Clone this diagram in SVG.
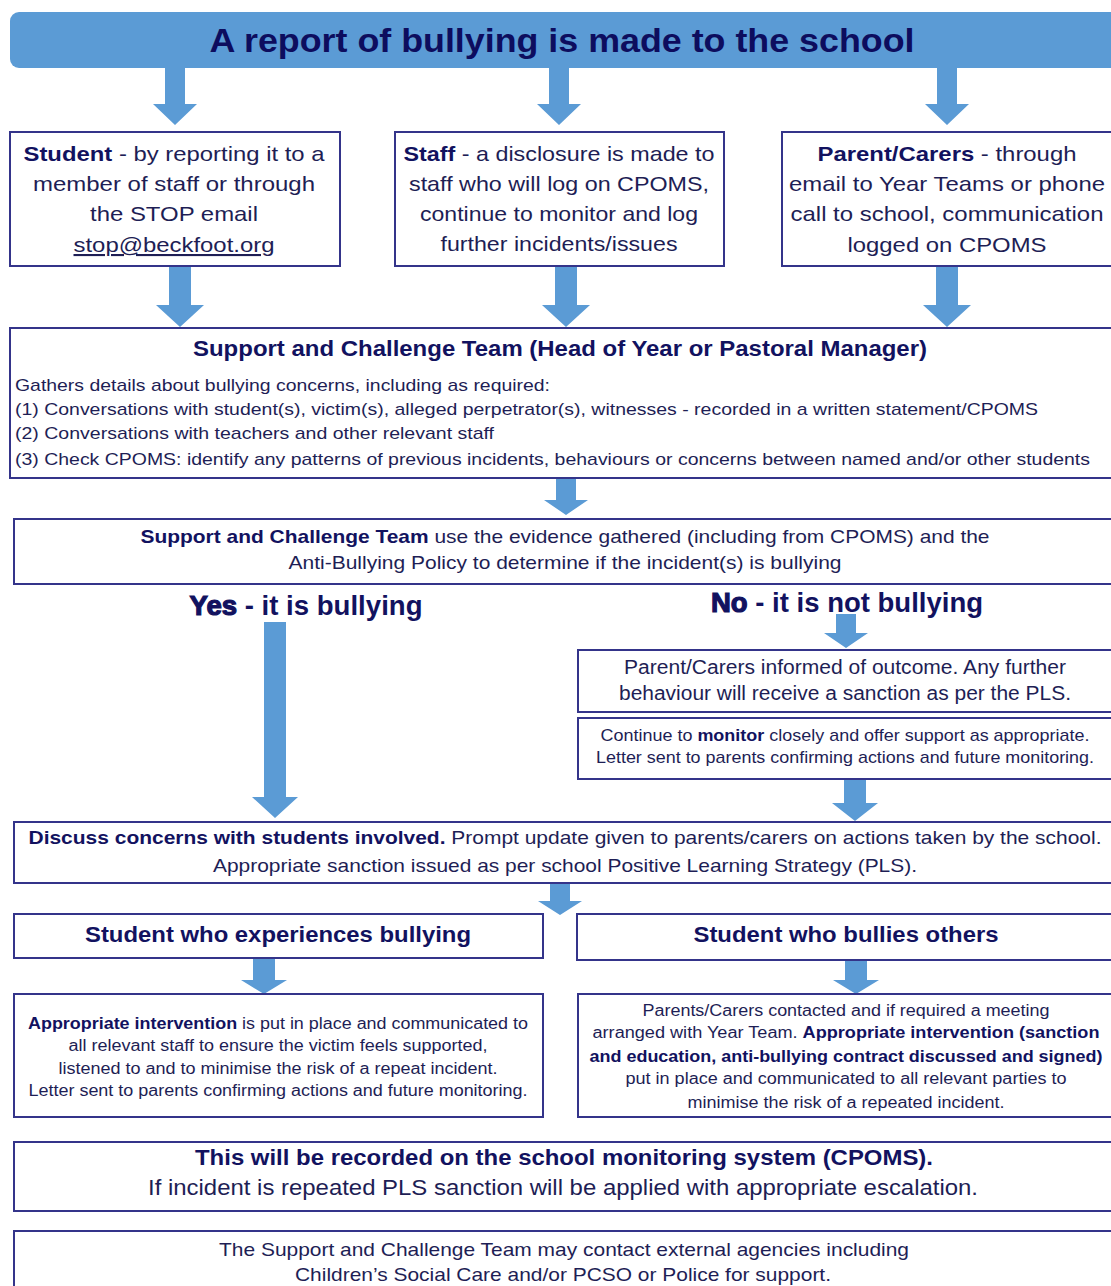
<svg xmlns="http://www.w3.org/2000/svg" width="1111" height="1286" viewBox="0 0 1111 1286">
<style>
text{font-family:"Liberation Sans",Arial,sans-serif;fill:#1e1e55;}
.c{text-anchor:middle;}
.b{font-weight:bold;fill:#12125f;}
.box{fill:#ffffff;stroke:#34348a;stroke-width:2;}
.arr{fill:#5b9bd5;}
.heavy{stroke:#12125f;stroke-width:1.2;}
</style>
<rect width="1111" height="1286" fill="#ffffff"/>
<g id="connectors">
<path class="arr" d="M165 68H185V104H197L175 125L153 104H165Z"/>
<path class="arr" d="M549 68H569V104H581L559 125L537 104H549Z"/>
<path class="arr" d="M937 68H957V104H969L947 125L925 104H937Z"/>
<path class="arr" d="M169 266H191V305H204L180 327L156 305H169Z"/>
<path class="arr" d="M555 266H577V305H590L566 327L542 305H555Z"/>
<path class="arr" d="M936 266H958V305H971L947 327L923 305H936Z"/>
<path class="arr" d="M556 478H576V500H588L566 515L544 500H556Z"/>
<path class="arr" d="M264 622H286V797H298L275 818L252 797H264Z"/>
<path class="arr" d="M836 614H856V633H868L846 648L824 633H836Z"/>
<path class="arr" d="M844 779H866V803H878L855 821L832 803H844Z"/>
<path class="arr" d="M550 883H570V901H582L560 915L538 901H550Z"/>
<path class="arr" d="M253 958H275V980H287L264 994L241 980H253Z"/>
<path class="arr" d="M845 960H867V980H879L856 994L833 980H845Z"/>
</g>
<g id="n-report">
<rect x="10" y="12" width="1111" height="56" rx="9" fill="#5b9bd5"/>
<text class="c b" x="562" y="52" font-size="34" textLength="705" lengthAdjust="spacingAndGlyphs" style="fill:#0d0d5e">A report of bullying is made to the school</text>
</g>
<g id="n-student">
<rect class="box" x="10" y="132" width="330" height="134"/>
<text class="c" x="174" y="161" font-size="21" textLength="301" lengthAdjust="spacingAndGlyphs"><tspan class="b">Student</tspan> - by reporting it to a</text>
<text class="c" x="174" y="191" font-size="21" textLength="282" lengthAdjust="spacingAndGlyphs">member of staff or through</text>
<text class="c" x="174" y="221" font-size="21" textLength="168" lengthAdjust="spacingAndGlyphs">the STOP email</text>
<text class="c" x="174" y="252" font-size="21" textLength="201" lengthAdjust="spacingAndGlyphs" text-decoration="underline">stop@beckfoot.org</text>
</g>
<g id="n-staff">
<rect class="box" x="395" y="132" width="329" height="134"/>
<text class="c" x="559" y="161" font-size="21" textLength="311" lengthAdjust="spacingAndGlyphs"><tspan class="b">Staff</tspan> - a disclosure is made to</text>
<text class="c" x="559" y="191" font-size="21" textLength="300" lengthAdjust="spacingAndGlyphs">staff who will log on CPOMS,</text>
<text class="c" x="559" y="221" font-size="21" textLength="278" lengthAdjust="spacingAndGlyphs">continue to monitor and log</text>
<text class="c" x="559" y="251" font-size="21" textLength="237" lengthAdjust="spacingAndGlyphs">further incidents/issues</text>
</g>
<g id="n-parent">
<rect class="box" x="782" y="132" width="340" height="134"/>
<text class="c" x="947" y="161" font-size="21" textLength="259" lengthAdjust="spacingAndGlyphs"><tspan class="b">Parent/Carers</tspan> - through</text>
<text class="c" x="947" y="191" font-size="21" textLength="316" lengthAdjust="spacingAndGlyphs">email to Year Teams or phone</text>
<text class="c" x="947" y="221" font-size="21" textLength="313" lengthAdjust="spacingAndGlyphs">call to school, communication</text>
<text class="c" x="947" y="252" font-size="21" textLength="199" lengthAdjust="spacingAndGlyphs">logged on CPOMS</text>
</g>
<g id="n-support">
<rect class="box" x="10" y="328" width="1111" height="150"/>
<text class="c b" x="560" y="356" font-size="22" textLength="734" lengthAdjust="spacingAndGlyphs">Support and Challenge Team (Head of Year or Pastoral Manager)</text>
<text x="15" y="391" font-size="17" textLength="535" lengthAdjust="spacingAndGlyphs">Gathers details about bullying concerns, including as required:</text>
<text x="15" y="415" font-size="17" textLength="1023" lengthAdjust="spacingAndGlyphs">(1) Conversations with student(s), victim(s), alleged perpetrator(s), witnesses - recorded in a written statement/CPOMS</text>
<text x="15" y="439" font-size="17" textLength="479" lengthAdjust="spacingAndGlyphs">(2) Conversations with teachers and other relevant staff</text>
<text x="15" y="465" font-size="17" textLength="1075" lengthAdjust="spacingAndGlyphs">(3) Check CPOMS: identify any patterns of previous incidents, behaviours or concerns between named and/or other students</text>
</g>
<g id="n-determine">
<rect class="box" x="14" y="519" width="1107" height="65"/>
<text class="c" x="565" y="543" font-size="19" textLength="849" lengthAdjust="spacingAndGlyphs"><tspan class="b">Support and Challenge Team</tspan> use the evidence gathered (including from CPOMS) and the</text>
<text class="c" x="565" y="569" font-size="19" textLength="553" lengthAdjust="spacingAndGlyphs">Anti-Bullying Policy to determine if the incident(s) is bullying</text>
</g>
<g id="n-yes">
<text class="c b" x="306" y="615" font-size="27" textLength="233" lengthAdjust="spacingAndGlyphs"><tspan class="heavy">Yes</tspan> - it is bullying</text>
</g>
<g id="n-no">
<text class="c b" x="847" y="612" font-size="27" textLength="272" lengthAdjust="spacingAndGlyphs"><tspan class="heavy">No</tspan> - it is not bullying</text>
</g>
<g id="n-informed">
<rect class="box" x="578" y="650" width="543" height="62"/>
<text class="c" x="845" y="674" font-size="20" textLength="442" lengthAdjust="spacingAndGlyphs">Parent/Carers informed of outcome. Any further</text>
<text class="c" x="845" y="700" font-size="20" textLength="452" lengthAdjust="spacingAndGlyphs">behaviour will receive a sanction as per the PLS.</text>
</g>
<g id="n-monitor">
<rect class="box" x="578" y="718" width="543" height="61"/>
<text class="c" x="845" y="741" font-size="17" textLength="489" lengthAdjust="spacingAndGlyphs">Continue to <tspan class="b">monitor</tspan> closely and offer support as appropriate.</text>
<text class="c" x="845" y="763" font-size="17" textLength="498" lengthAdjust="spacingAndGlyphs">Letter sent to parents confirming actions and future monitoring.</text>
</g>
<g id="n-discuss">
<rect class="box" x="14" y="822" width="1107" height="61"/>
<text class="c" x="565" y="844" font-size="19" textLength="1073" lengthAdjust="spacingAndGlyphs"><tspan class="b">Discuss concerns with students involved.</tspan> Prompt update given to parents/carers on actions taken by the school.</text>
<text class="c" x="565" y="872" font-size="19" textLength="704" lengthAdjust="spacingAndGlyphs">Appropriate sanction issued as per school Positive Learning Strategy (PLS).</text>
</g>
<g id="n-victim">
<rect class="box" x="14" y="914" width="529" height="44"/>
<text class="c b" x="278" y="942" font-size="22" textLength="386" lengthAdjust="spacingAndGlyphs">Student who experiences bullying</text>
</g>
<g id="n-bully">
<rect class="box" x="577" y="914" width="544" height="46"/>
<text class="c b" x="846" y="942" font-size="22" textLength="305" lengthAdjust="spacingAndGlyphs">Student who bullies others</text>
</g>
<g id="n-victim-support">
<rect class="box" x="14" y="994" width="529" height="123"/>
<text class="c" x="278" y="1029" font-size="16" textLength="500" lengthAdjust="spacingAndGlyphs"><tspan class="b">Appropriate intervention</tspan> is put in place and communicated to</text>
<text class="c" x="278" y="1051" font-size="16" textLength="419" lengthAdjust="spacingAndGlyphs">all relevant staff to ensure the victim feels supported,</text>
<text class="c" x="278" y="1074" font-size="16" textLength="439" lengthAdjust="spacingAndGlyphs">listened to and to minimise the risk of a repeat incident.</text>
<text class="c" x="278" y="1096" font-size="16" textLength="499" lengthAdjust="spacingAndGlyphs">Letter sent to parents confirming actions and future monitoring.</text>
</g>
<g id="n-bully-support">
<rect class="box" x="578" y="994" width="543" height="123"/>
<text class="c" x="846" y="1016" font-size="16" textLength="407" lengthAdjust="spacingAndGlyphs">Parents/Carers contacted and if required a meeting</text>
<text class="c" x="846" y="1038" font-size="16" textLength="507" lengthAdjust="spacingAndGlyphs">arranged with Year Team. <tspan class="b">Appropriate intervention (sanction</tspan></text>
<text class="c b" x="846" y="1062" font-size="16" textLength="513" lengthAdjust="spacingAndGlyphs">and education, anti-bullying contract discussed and signed)</text>
<text class="c" x="846" y="1084" font-size="16" textLength="441" lengthAdjust="spacingAndGlyphs">put in place and communicated to all relevant parties to</text>
<text class="c" x="846" y="1108" font-size="16" textLength="317" lengthAdjust="spacingAndGlyphs">minimise the risk of a repeated incident.</text>
</g>
<g id="n-recorded">
<rect class="box" x="14" y="1142" width="1107" height="69"/>
<text class="c b" x="564" y="1165" font-size="22" textLength="738" lengthAdjust="spacingAndGlyphs">This will be recorded on the school monitoring system (CPOMS).</text>
<text class="c" x="563" y="1195" font-size="22" textLength="830" lengthAdjust="spacingAndGlyphs">If incident is repeated PLS sanction will be applied with appropriate escalation.</text>
</g>
<g id="n-external">
<rect class="box" x="14" y="1231" width="1107" height="70"/>
<text class="c" x="564" y="1256" font-size="19" textLength="690" lengthAdjust="spacingAndGlyphs">The Support and Challenge Team may contact external agencies including</text>
<text class="c" x="563" y="1281" font-size="19" textLength="536" lengthAdjust="spacingAndGlyphs">Children’s Social Care and/or PCSO or Police for support.</text>
</g>
</svg>
